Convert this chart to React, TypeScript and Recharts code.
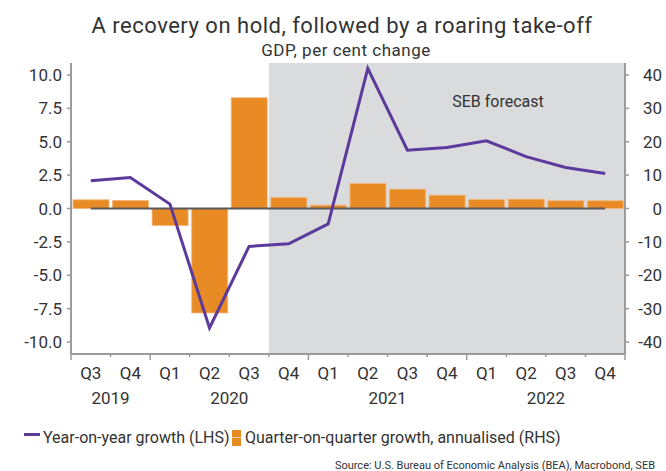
import React from 'react';
import { ComposedChart, Bar, Line, XAxis, YAxis, ReferenceArea, ReferenceLine } from 'recharts';

const quarters = ['Q3', 'Q4', 'Q1', 'Q2', 'Q3', 'Q4', 'Q1', 'Q2', 'Q3', 'Q4', 'Q1', 'Q2', 'Q3', 'Q4'];
const years = ['2019', '2019', '2020', '2020', '2020', '2020', '2021', '2021', '2021', '2021', '2022', '2022', '2022', '2022'];
const yoyGrowth = [2.07, 2.32, 0.33, -8.95, -2.84, -2.64, -1.15, 10.5, 4.37, 4.57, 5.07, 3.89, 3.07, 2.62];
const qoqAnnualised = [2.6, 2.4, -5.1, -31.3, 33.2, 3.3, 1.0, 7.5, 5.8, 4.0, 2.7, 2.8, 2.3, 2.3];
const leftTicks = [-10, -7.5, -5, -2.5, 0, 2.5, 5, 7.5, 10];
const rightTicks = [-40, -30, -20, -10, 0, 10, 20, 30, 40];
const forecastStart = '2020 Q4';
const forecastEnd = '2022 Q4';

const data = quarters.map((q, i) => ({
  key: `${years[i]} ${q}`,
  quarter: q,
  year: years[i],
  yoy: yoyGrowth[i],
  qoq: qoqAnnualised[i],
}));

const W = 666;
const H = 471;
const LEFT_W = 71;
const RIGHT_W = 41;
const TOP = 63;
const PLOT_W = W - LEFT_W - RIGHT_W;
const SLOT = PLOT_W / data.length;

const FONT = 'Roboto, "Noto Sans", sans-serif';
const TEXT = '#333333';
const AXIS = '#9a9a9a';
const PURPLE = '#5b3a9c';
const ORANGE = '#e98b25';
const GREY = '#dadbdd';

const XTick = (props: any) => {
  const { x, y, payload } = props;
  const i = payload.index;
  const half = SLOT / 2;
  const d = data[i];
  const isYearStart = i === 0 || d.year !== data[i - 1].year;
  const isLast = i === data.length - 1;
  let yearLabel = null;
  if (isYearStart) {
    let last = i;
    while (last + 1 < data.length && data[last + 1].year === d.year) last++;
    const cx = x + ((last - i) * SLOT) / 2;
    yearLabel = (
      <text x={cx} y={y + 50} textAnchor="middle" fontSize={17} fill={TEXT} fontFamily={FONT}>
        {d.year}
      </text>
    );
  }
  return (
    <g>
      <line x1={x - half} x2={x - half} y1={y} y2={y + (isYearStart ? 6 : 3)} stroke={AXIS} strokeWidth={1.5} />
      {isLast && <line x1={x + half} x2={x + half} y1={y} y2={y + 6} stroke={AXIS} strokeWidth={1.5} />}
      <text x={x} y={y + 25} textAnchor="middle" fontSize={17} fill={TEXT} fontFamily={FONT}>
        {d.quarter}
      </text>
      {yearLabel}
    </g>
  );
};

const RightTick = (props: any) => {
  const { x, y, payload } = props;
  return (
    <text x={x + 33} y={y} dy={6} textAnchor="end" fontSize={17} fill={TEXT} fontFamily={FONT}>
      {payload.value}
    </text>
  );
};

export default function App() {
  return (
    <div style={{ position: 'absolute', left: 0, top: 0, width: W, height: H, background: '#fff' }}>
      <ComposedChart
        width={W}
        height={H}
        data={data}
        margin={{ top: TOP, right: 0, left: 0, bottom: 57 }}
        barCategoryGap="5%"
      >
        <XAxis
          dataKey="key"
          xAxisId="x"
          height={60}
          interval={0}
          tickSize={0}
          tickMargin={0}
          tickLine={false}
          axisLine={{ stroke: AXIS, strokeWidth: 2 }}
          tick={<XTick />}
        />
        <YAxis
          yAxisId="left"
          orientation="left"
          width={LEFT_W}
          domain={[-10.9, 10.9]}
          allowDataOverflow
          ticks={leftTicks}
          interval={0}
          tickFormatter={(v: number) => v.toFixed(1)}
          tickSize={4}
          tickMargin={5}
          axisLine={{ stroke: AXIS, strokeWidth: 2 }}
          tickLine={{ stroke: AXIS, strokeWidth: 1.5 }}
          tick={{ fontSize: 17, fill: TEXT, fontFamily: FONT }}
        />
        <YAxis
          yAxisId="right"
          orientation="right"
          width={RIGHT_W}
          domain={[-43.6, 43.6]}
          allowDataOverflow
          ticks={rightTicks}
          interval={0}
          tickSize={4}
          tickMargin={0}
          axisLine={{ stroke: AXIS, strokeWidth: 2 }}
          tickLine={{ stroke: AXIS, strokeWidth: 1.5 }}
          tick={<RightTick />}
        />
        <ReferenceArea
          xAxisId="x"
          yAxisId="left"
          x1={forecastStart}
          x2={forecastEnd}
          fill={GREY}
          fillOpacity={1}
          stroke="none"
          ifOverflow="extendDomain"
        />
        <Bar
          dataKey="qoq"
          xAxisId="x"
          yAxisId="right"
          fill={ORANGE}
          stroke="#f2b57a"
          strokeWidth={0.8}
          isAnimationActive={false}
        />
        <ReferenceLine
          xAxisId="x"
          yAxisId="left"
          segment={[{ x: data[0].key, y: 0 }, { x: data[data.length - 1].key, y: 0 }]}
          stroke="#5a5a5a"
          strokeWidth={2}
        />
        <Line
          dataKey="yoy"
          xAxisId="x"
          yAxisId="left"
          stroke={PURPLE}
          strokeWidth={3}
          dot={false}
          type="linear"
          isAnimationActive={false}
        />
      </ComposedChart>
      <svg
        width={W}
        height={H}
        style={{ position: 'absolute', left: 0, top: 0, pointerEvents: 'none' }}
        fontFamily={FONT}
      >
        <text x={342} y={33} textAnchor="middle" fontSize={22} letterSpacing={0.5} fill={TEXT}>
          A recovery on hold, followed by a roaring take-off
        </text>
        <text x={346} y={56} textAnchor="middle" fontSize={17} letterSpacing={0.5} fill={TEXT}>
          GDP, per cent change
        </text>
        <text x={498} y={107} textAnchor="middle" fontSize={16} fill={TEXT}>
          SEB forecast
        </text>
        <rect x={24} y={433} width={16} height={3} fill={PURPLE} />
        <text x={43} y={443} fontSize={16} fill={TEXT}>
          Year-on-year growth (LHS)
        </text>
        <rect x={232} y={430} width={9} height={16} fill={ORANGE} />
        <line x1={232} x2={241} y1={437.5} y2={437.5} stroke="#f6d3ad" strokeWidth={1} />
        <text x={245} y={443} fontSize={16} fill={TEXT}>
          Quarter-on-quarter growth, annualised (RHS)
        </text>
        <text x={655} y={469} textAnchor="end" fontSize={11} fill={TEXT}>
          Source: U.S. Bureau of Economic Analysis (BEA), Macrobond, SEB
        </text>
      </svg>
    </div>
  );
}
